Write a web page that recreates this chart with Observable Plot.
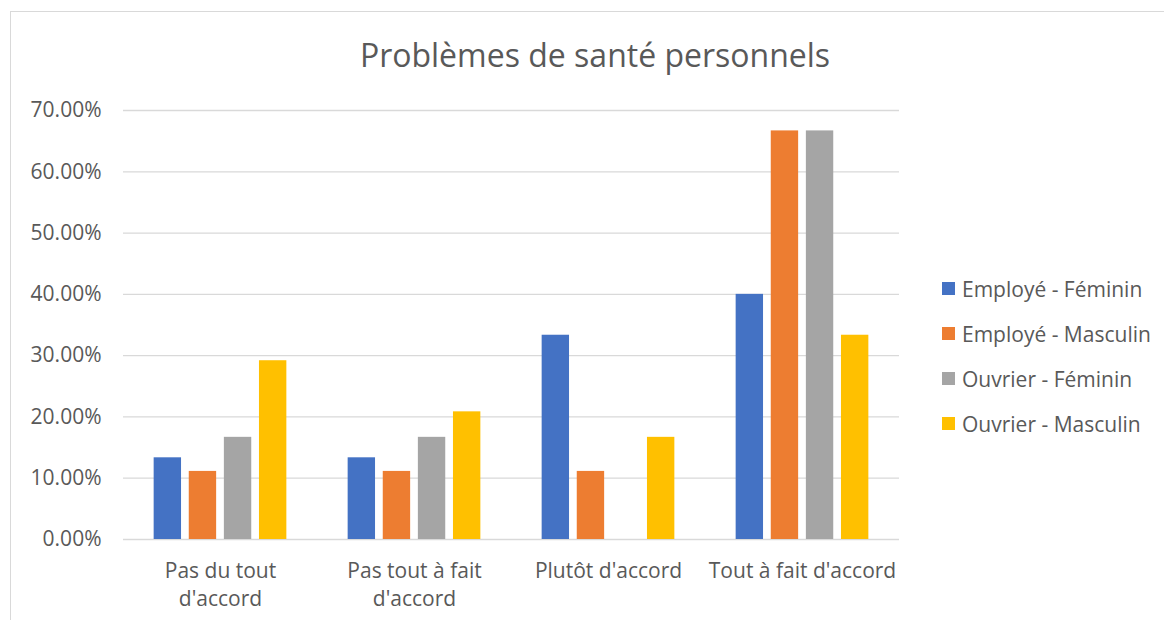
<!DOCTYPE html>
<html>
<head>
<meta charset="utf-8">
<script src="https://cdn.jsdelivr.net/npm/d3@7"></script>
<script src="https://cdn.jsdelivr.net/npm/@observablehq/plot@0.6"></script>
<style>
  html, body { margin: 0; padding: 0; background: #fff; overflow: hidden; }
  #wrap { position: relative; width: 1164px; height: 620px; overflow: hidden; font-family: "Open Sans", sans-serif; color: #595959; }
  #frame { position: absolute; left: 10px; top: 11px; width: 2000px; height: 2000px; border: 1.5px solid #d9d9d9; box-sizing: border-box; }
  #title { position: absolute; left: 0; width: 1190px; top: 36px; text-align: center; font-size: 32px; line-height: 1.2; color: #595959; }
  #chart { position: absolute; left: 0; top: 0; }
  #legend { position: absolute; left: 942px; top: 266px; }
  .item { display: flex; align-items: center; height: 45px; font-size: 21px; color: #595959; white-space: nowrap; }
  .sw { width: 13px; height: 13px; margin-right: 7px; flex: none; }
</style>
</head>
<body>
<div id="wrap">
  <div id="frame"></div>
  <div id="title">Problèmes de santé personnels</div>
  <div id="chart"></div>
  <div id="legend"></div>
</div>
<script>
const categories = ["Pas du tout d'accord", "Pas tout à fait d'accord", "Plutôt d'accord", "Tout à fait d'accord"];
const categoryLabels = ["Pas du tout\nd'accord", "Pas tout à fait\nd'accord", "Plutôt d'accord", "Tout à fait d'accord"];
const series = ["Employé - Féminin", "Employé - Masculin", "Ouvrier - Féminin", "Ouvrier - Masculin"];
const employeFeminin  = [0.1333, 0.1333, 0.3333, 0.4000];
const employeMasculin = [0.1111, 0.1111, 0.1111, 0.6667];
const ouvrierFeminin  = [0.1667, 0.1667, 0.0000, 0.6667];
const ouvrierMasculin = [0.2917, 0.2083, 0.1667, 0.3333];
const colors = ["#4472C4", "#ED7D31", "#A5A5A5", "#FFC000"];
const yTicks = [0, 0.1, 0.2, 0.3, 0.4, 0.5, 0.6, 0.7];

const seriesValues = [employeFeminin, employeMasculin, ouvrierFeminin, ouvrierMasculin];
const data = [];
categories.forEach((c, i) => {
  series.forEach((s, j) => {
    data.push({cat: c, series: s, value: seriesValues[j][i]});
  });
});

const chart = Plot.plot({
  width: 920,
  height: 620,
  marginTop: 110,
  marginBottom: 81,
  marginLeft: 122,
  marginRight: 20,
  style: {fontFamily: "Open Sans, sans-serif", color: "#595959", background: "transparent"},
  fx: {domain: categories, padding: 0},
  x: {domain: series, paddingInner: 0.22, paddingOuter: 0.873, round: false, axis: null},
  y: {domain: [0, 0.7]},
  color: {domain: series, range: colors},
  marks: [
    Plot.gridY({ticks: yTicks, stroke: "#d9d9d9", strokeOpacity: 1, strokeWidth: 1.3}),
    Plot.barY(data, {fx: "cat", x: "series", y: "value", fill: "series"}),
    Plot.axisY({ticks: yTicks, tickFormat: d3.format(".2%"), tickSize: 0, tickPadding: 22, fontSize: 21, label: null}),
    Plot.axisFx({anchor: "bottom", tickSize: 0, tickPadding: 18, fontSize: 21, lineHeight: 1.35, label: null,
      tickFormat: d => categoryLabels[categories.indexOf(d)]})
  ]
});
document.getElementById("chart").appendChild(chart);

const legend = document.getElementById("legend");
series.forEach((s, j) => {
  const it = document.createElement("div");
  it.className = "item";
  const sw = document.createElement("span");
  sw.className = "sw";
  sw.style.background = colors[j];
  const tx = document.createElement("span");
  tx.textContent = s;
  it.appendChild(sw);
  it.appendChild(tx);
  legend.appendChild(it);
});
</script>
</body>
</html>
